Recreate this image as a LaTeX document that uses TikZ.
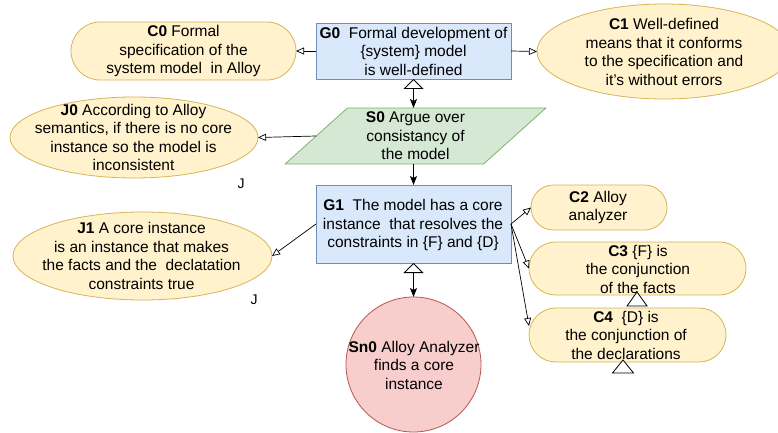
\documentclass[tikz,border=0pt]{standalone}
\usepackage{fontspec}
\setmainfont{Liberation Sans}
\usetikzlibrary{shapes.geometric, arrows.meta}
\definecolor{gfill}{HTML}{DAE8FC}
\definecolor{gstroke}{HTML}{6C8EBF}
\definecolor{yfill}{HTML}{FFF2CC}
\definecolor{ystroke}{HTML}{D6B656}
\definecolor{sfill}{HTML}{D5E8D4}
\definecolor{sstroke}{HTML}{82B366}
\definecolor{rfill}{HTML}{F8CECC}
\definecolor{rstroke}{HTML}{B85450}
\begin{document}
\begin{tikzpicture}[x=1pt,y=-1pt,
  base/.style={inner sep=0pt, outer sep=0pt, line width=0.8pt},
  goal/.style={base, rectangle, draw=gstroke, fill=gfill},
  ctx/.style={base, rectangle, rounded corners=#1, draw=ystroke, fill=yfill},
  just/.style={base, ellipse, draw=ystroke, fill=yfill},
  strat/.style={base, trapezium, trapezium left angle=46.6, trapezium right angle=133.4, trapezium stretches=true, draw=sstroke, fill=sfill},
  soln/.style={base, circle, draw=rstroke, fill=rfill},
  txt/.style={font=\fontsize{15.5}{18.5}\selectfont, align=center, inner sep=0pt, text=black},
  ctxarrow/.style={-{Triangle[open, length=8pt, width=7pt]}, line width=0.7pt, black},
  suparrow/.style={{Triangle[open, length=10pt, width=20pt]}-{Stealth[length=9pt, width=7pt, inset=2pt]}, line width=0.8pt, black},
  plainarrow/.style={-{Stealth[length=9pt, width=7pt, inset=2pt]}, line width=0.8pt, black},
  marker/.style={draw=black, fill=white, line width=0.8pt}
]
\useasboundingbox (0,0) rectangle (778,433);
\clip (0,0) rectangle (778,433);
\fill[white] (0,0) rectangle (778,433);

% shapes
\node[goal, minimum width=195, minimum height=56] (G0) at (413.5,51) {};
\node[txt] (G0t) at (413.5,51) {\textbf{G0}~ Formal development of\\\{system\} model\\is well-defined};

\node[ctx=29pt, minimum width=225, minimum height=58] (C0) at (183.5,51) {};
\node[txt] (C0t) at (183.5,51) {\textbf{C0} Formal\\specification of the\\system model~ in Alloy};

\node[just, minimum width=254, minimum height=95] (C1) at (664,51.5) {};
\node[txt] (C1t) at (664,52) {\textbf{C1} Well-defined\\means that it conforms\\to the specification and\\it's without errors};

\node[strat, txt, minimum width=261, minimum height=56] (S0) at (415.5,136) {\textbf{S0} Argue over\\consistancy of\\the model};

\node[just, minimum width=248, minimum height=81] (J0) at (134,137.5) {};
\node[txt] (J0t) at (133.5,137.5) {\textbf{J0} According to Alloy\\semantics, if there is no core\\instance so the model is\\inconsistent};
\node[txt, font=\fontsize{14}{16}\selectfont] (Jl0) at (241,184) {J};

\node[goal, minimum width=195, minimum height=78] (G1) at (413.5,224) {};
\node[txt] (G1t) at (413,225) {\textbf{G1}~ The model has a core\\instance~ that resolves the\\constraints in \{F\} and \{D\}};

\node[soln, minimum size=135] (Sn0) at (413.5,364.5) {};
\node[txt] (Sn0t) at (414,365) {\textbf{Sn0} Alloy Analyzer\\finds a core\\instance};

\node[just, minimum width=259, minimum height=88] (J1) at (142.5,256) {};
\node[txt] (J1t) at (141.5,256) {\textbf{J1} A core instance\\is an instance that makes\\the facts and the~ declatation\\constraints true};
\node[txt, font=\fontsize{14}{16}\selectfont] (Jl1) at (254,300) {J};

\node[ctx=22.5pt, minimum width=136, minimum height=45] (C2) at (599,207.5) {};
\node[txt] (C2t) at (598,207.5) {\textbf{C2} Alloy\\analyzer};

\node[ctx=26.5pt, minimum width=217, minimum height=53] (C3) at (637.5,268.5) {};
\node[txt] (C3t) at (638,269) {\textbf{C3} \{F\} is\\the conjunction\\of the facts};

\node[ctx=27pt, minimum width=197, minimum height=54] (C4) at (627.5,335) {};
\node[txt] (C4t) at (626,335) {\textbf{C4}~ \{D\} is\\the conjunction of\\the declarations};

% undeveloped markers
\draw[marker] (637,292) -- (647,306) -- (627,306) -- cycle;
\draw[marker] (623,360) -- (633.5,373) -- (612.5,373) -- cycle;

% connectors
\draw[ctxarrow] (G0.west) -- (C0.east);
\draw[ctxarrow] (G0.east) -- (C1.west);
\draw[suparrow] (G0.south) -- (G0.south |- S0.north);
\draw[ctxarrow] (S0.west) -- (J0.east);
\draw[plainarrow] (G1.north |- S0.south) -- (G1.north);
\draw[ctxarrow] (G1.west) -- (J1.east);
\draw[ctxarrow] (G1.east) -- (C2.west);
\draw[ctxarrow] (G1.east) -- (C3.west);
\draw[ctxarrow] (G1.east) -- ([yshift=9pt]C4.west);
\draw[suparrow] (G1.south) -- (Sn0.north);
\end{tikzpicture}
\end{document}
